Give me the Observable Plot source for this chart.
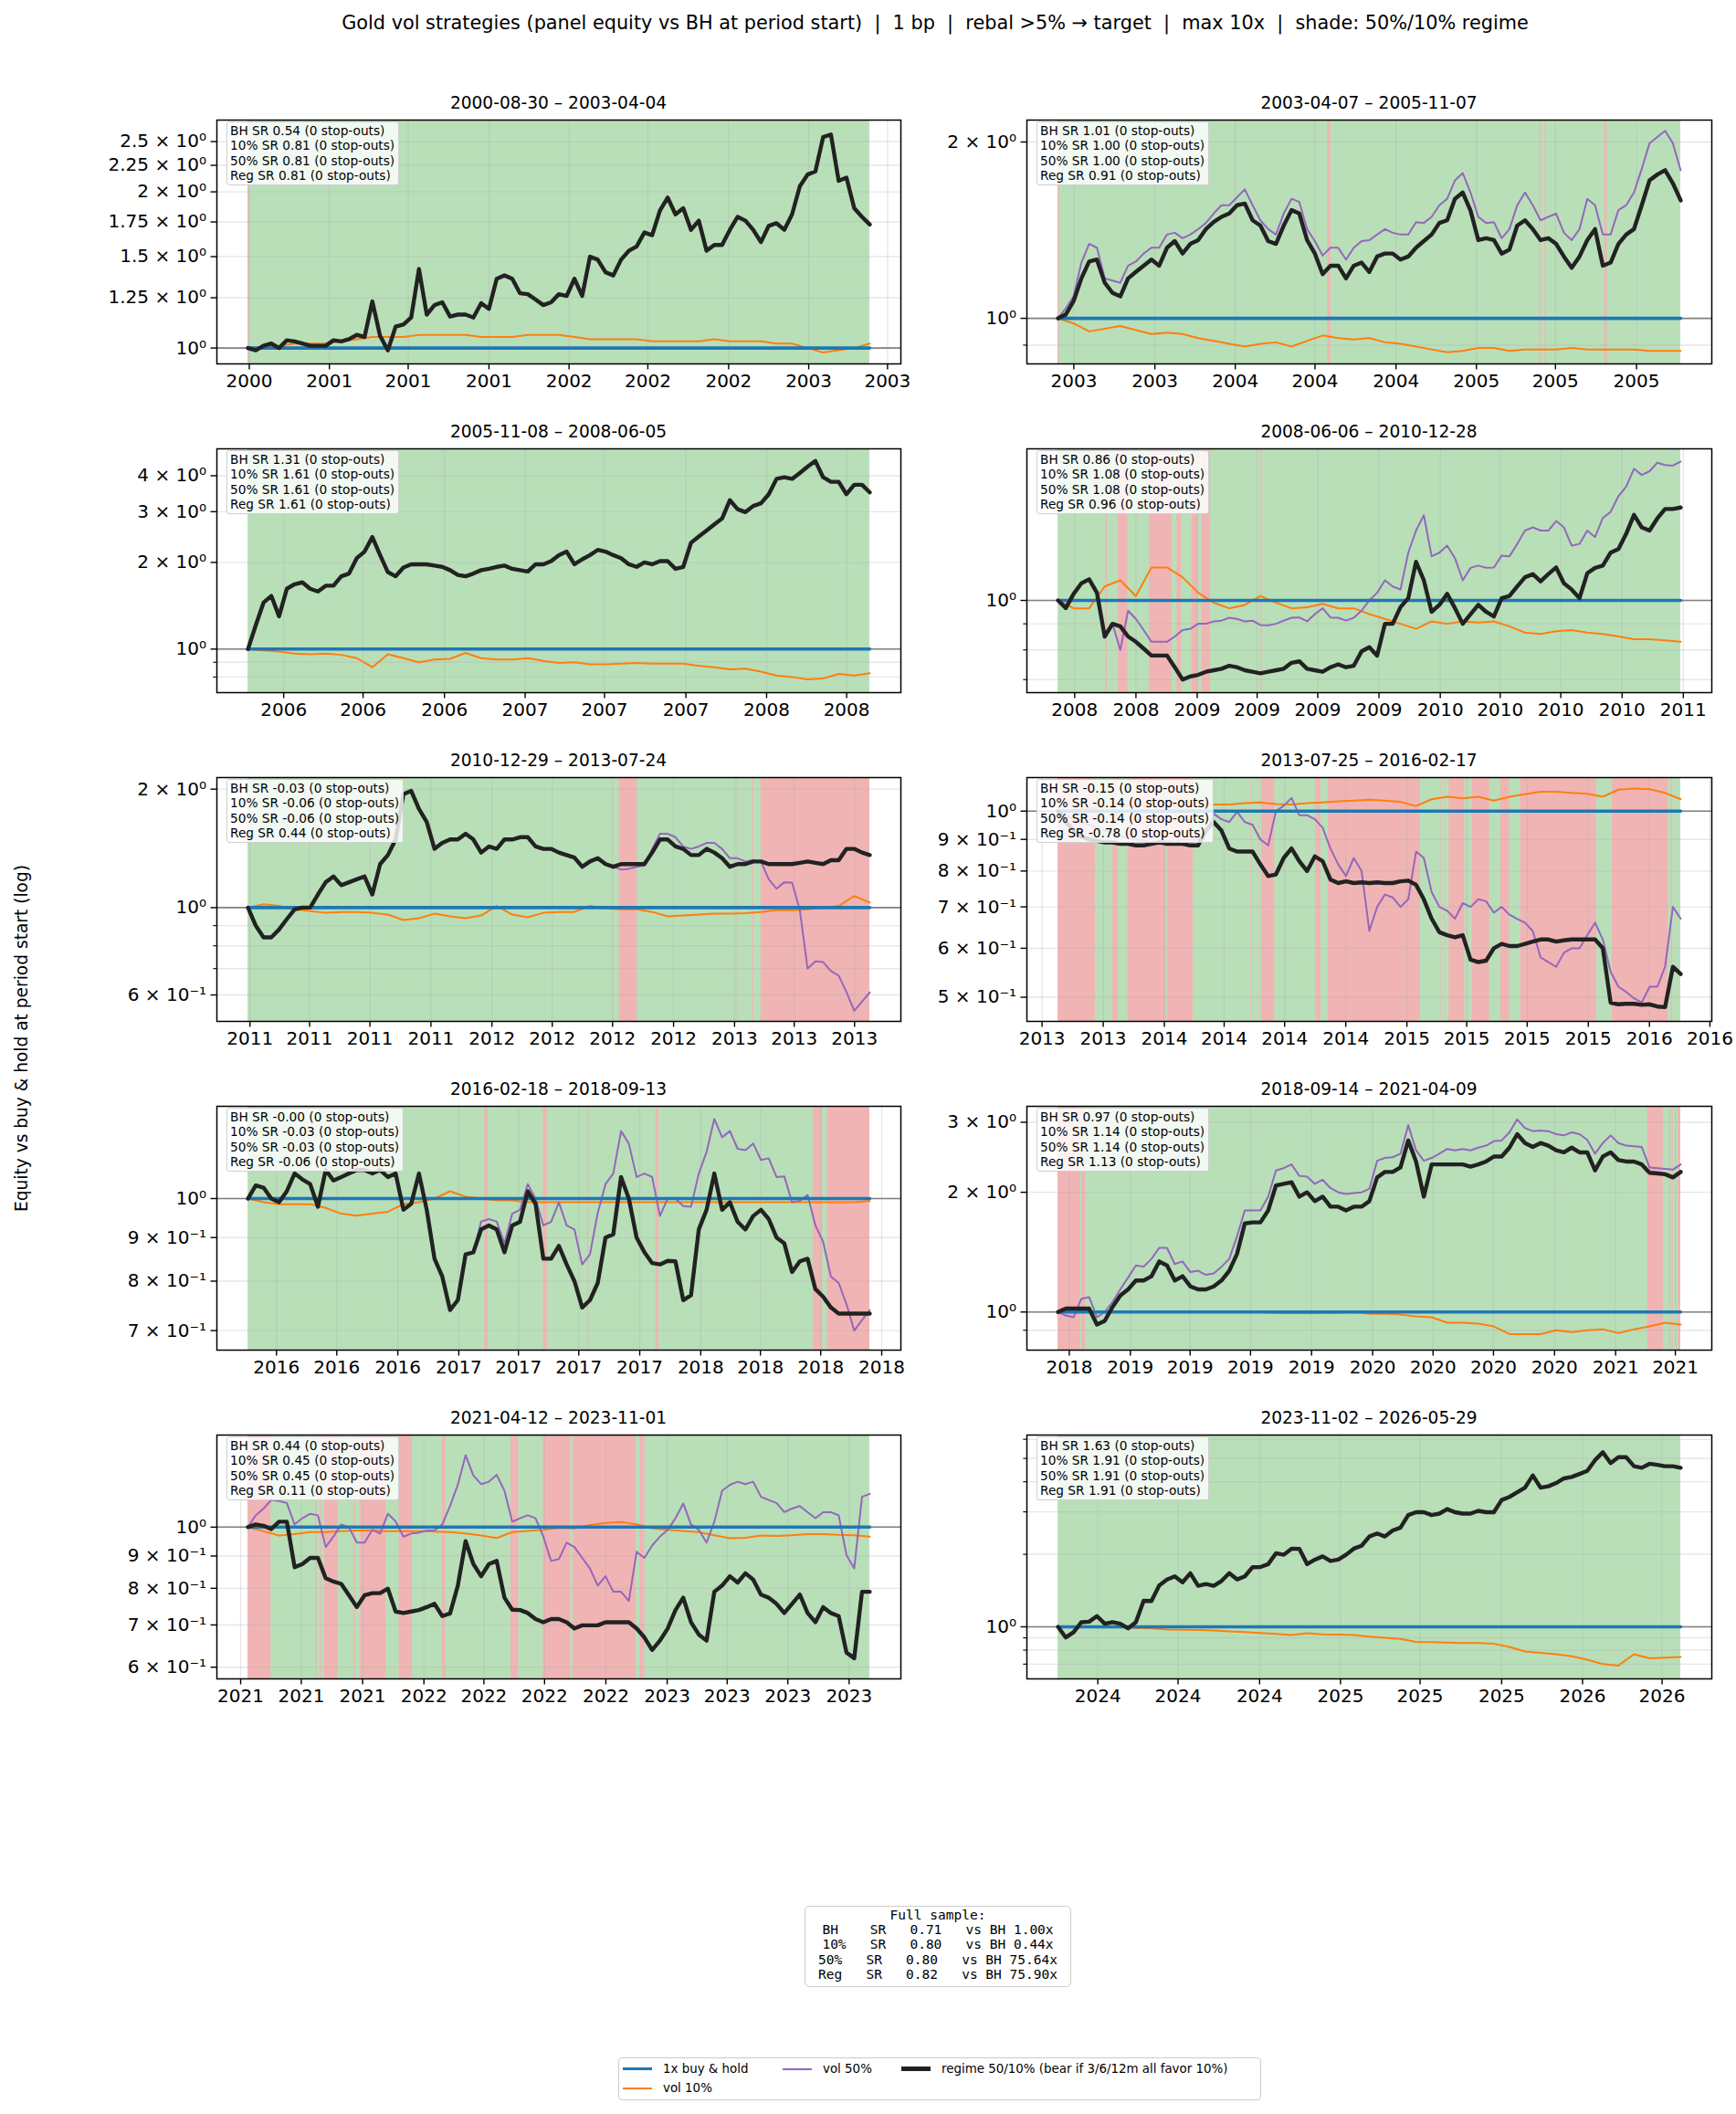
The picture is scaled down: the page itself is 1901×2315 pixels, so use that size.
<!DOCTYPE html>
<html><head><meta charset="utf-8">
<script src="https://cdn.jsdelivr.net/npm/d3@7"></script>
<script src="https://cdn.jsdelivr.net/npm/@observablehq/plot@0.6"></script>
<style>
body{margin:0;background:#fff;}
#fig{position:relative;width:1901px;height:2315px;background:#fff;font-family:"DejaVu Sans",sans-serif;color:#000;overflow:hidden}
.ptitle{position:absolute;font-size:18.6px;line-height:22px;white-space:nowrap;transform:translateX(-50%)}
.sbox{position:absolute;background:rgba(255,255,255,0.82);border:1px solid #cfcfcf;border-radius:3px;font-size:13.7px;line-height:16.3px;padding:1px 4px 2px 3px;white-space:nowrap}
.psvg{position:absolute}
</style></head><body><div id="fig"></div>
<script>
// ---------- data ----------
const periods = [["2000-08-30","2003-04-04"],["2003-04-07","2005-11-07"],["2005-11-08","2008-06-05"],["2008-06-06","2010-12-28"],["2010-12-29","2013-07-24"],["2013-07-25","2016-02-17"],["2016-02-18","2018-09-13"],["2018-09-14","2021-04-09"],["2021-04-12","2023-11-01"],["2023-11-02","2026-05-29"]];
const tickMonths = [
  ["2000-09","2001-01","2001-05","2001-09","2002-01","2002-05","2002-09","2003-01","2003-05"],
  ["2003-05","2003-09","2004-01","2004-05","2004-09","2005-01","2005-05","2005-09"],
  ["2006-01","2006-05","2006-09","2007-01","2007-05","2007-09","2008-01","2008-05"],
  ["2008-07","2008-10","2009-01","2009-04","2009-07","2009-10","2010-01","2010-04","2010-07","2010-10","2011-01"],
  ["2011-01","2011-04","2011-07","2011-10","2012-01","2012-04","2012-07","2012-10","2013-01","2013-04","2013-07"],
  ["2013-07","2013-10","2014-01","2014-04","2014-07","2014-10","2015-01","2015-04","2015-07","2015-10","2016-01","2016-04"],
  ["2016-04","2016-07","2016-10","2017-01","2017-04","2017-07","2017-10","2018-01","2018-04","2018-07","2018-10"],
  ["2018-10","2019-01","2019-04","2019-07","2019-10","2020-01","2020-04","2020-07","2020-10","2021-01","2021-04"],
  ["2021-04","2021-07","2021-10","2022-01","2022-04","2022-07","2022-10","2023-01","2023-04","2023-07","2023-10"],
  ["2024-01","2024-05","2024-09","2025-01","2025-05","2025-09","2026-01","2026-05"]];
const yRanges = [[0.932,2.75],[0.836,2.18],[0.706,4.96],[0.66,1.98],[0.514,2.14],[0.457,1.133],[0.664,1.283],[0.802,3.29],[0.575,1.399],[0.608,6.25]];
const yLabeled = [[1,1.25,1.5,1.75,2,2.25,2.5],[1,2],[1,2,3,4],[1],[0.6,1,2],[0.5,0.6,0.7,0.8,0.9,1],[0.7,0.8,0.9,1],[1,2,3],[0.6,0.7,0.8,0.9,1],[1]];
const yMinor = [[],[0.9],[0.8,0.9],[0.7,0.8,0.9],[0.7,0.8,0.9],[],[],[0.9],[],[0.7,0.8,0.9,2,3,4,5,6]];
const strategies = ["BH","10%","50%","Reg"];
const sharpe = [["0.54","0.81","0.81","0.81"],["1.01","1.00","1.00","0.91"],["1.31","1.61","1.61","1.61"],["0.86","1.08","1.08","0.96"],["-0.03","-0.06","-0.06","0.44"],["-0.15","-0.14","-0.14","-0.78"],["-0.00","-0.03","-0.03","-0.06"],["0.97","1.14","1.14","1.13"],["0.44","0.45","0.45","0.11"],["1.63","1.91","1.91","1.91"]];
const stopOuts = [0,0,0,0,0,0,0,0,0,0];
// bear-regime (red) spans as fraction of the period; rest of the period is bull (green)
const bearSpans = [
  [[0,0.002]],
  [[0,0.002],[0.433,0.438],[0.773,0.775],[0.782,0.784],[0.878,0.882]],
  [],
  [[0.077,0.079],[0.097,0.112],[0.147,0.183],[0.191,0.198],[0.215,0.225],[0.231,0.245],[0.326,0.328]],
  [[0.597,0.626],[0.787,0.789],[0.811,0.813],[0.825,1.0]],
  [[0,0.060],[0.088,0.096],[0.112,0.174],[0.176,0.217],[0.310,0.311],[0.323,0.324],[0.327,0.348],[0.414,0.422],[0.434,0.582],[0.614,0.615],[0.620,0.621],[0.628,0.653],[0.658,0.659],[0.665,0.693],[0.711,0.725],[0.743,0.865],[0.890,0.980],[0.985,0.987]],
  [[0.381,0.386],[0.475,0.481],[0.546,0.548],[0.656,0.660],[0.909,0.924],[0.932,1.0]],
  [[0,0.036],[0.038,0.044],[0.947,0.972],[0.982,0.984],[0.986,0.988],[0.996,1.0]],
  [[0,0.037],[0.109,0.111],[0.117,0.119],[0.123,0.145],[0.171,0.173],[0.181,0.222],[0.243,0.264],[0.313,0.318],[0.423,0.435],[0.475,0.519],[0.523,0.624],[0.630,0.638]],
  []];

// equity vs BH, evenly spaced through each period
const regime1 = [1.00,0.99,1.01,1.02,1.00,1.035,1.03,1.02,1.01,1.01,1.01,1.035,1.03,1.04,1.06,1.05,1.23,1.055,0.99,1.10,1.11,1.145,1.42,1.16,1.21,1.225,1.15,1.16,1.16,1.145,1.22,1.19,1.36,1.38,1.36,1.275,1.27,1.24,1.21,1.225,1.27,1.26,1.36,1.26,1.50,1.48,1.40,1.38,1.48,1.54,1.57,1.67,1.65,1.84,1.95,1.81,1.86,1.69,1.76,1.54,1.58,1.58,1.69,1.79,1.76,1.69,1.60,1.72,1.74,1.69,1.81,2.05,2.16,2.19,2.55,2.58,2.10,2.13,1.86,1.79,1.73];
const vol10_1 = [1.00,1.00,1.01,1.02,1.02,1.02,1.03,1.04,1.05,1.05,1.05,1.06,1.06,1.06,1.06,1.05,1.05,1.05,1.06,1.06,1.06,1.05,1.04,1.04,1.04,1.04,1.03,1.03,1.03,1.03,1.04,1.03,1.03,1.03,1.02,1.02,1.00,0.98,0.99,1.00,1.02];
const vol50_1 = regime1;

const regime2 = [1.00,1.015,1.07,1.17,1.25,1.26,1.15,1.105,1.09,1.17,1.20,1.23,1.26,1.23,1.32,1.355,1.29,1.34,1.36,1.42,1.46,1.49,1.51,1.56,1.57,1.47,1.44,1.355,1.34,1.44,1.53,1.51,1.36,1.29,1.19,1.23,1.23,1.17,1.23,1.245,1.20,1.275,1.29,1.29,1.26,1.275,1.32,1.355,1.39,1.455,1.47,1.60,1.64,1.527,1.36,1.37,1.36,1.29,1.31,1.44,1.47,1.42,1.36,1.37,1.34,1.275,1.22,1.275,1.36,1.42,1.23,1.245,1.34,1.39,1.42,1.56,1.72,1.76,1.79,1.70,1.59];
const vol50_2 = [1.00,1.04,1.09,1.245,1.34,1.32,1.17,1.16,1.15,1.23,1.25,1.29,1.32,1.32,1.39,1.40,1.37,1.39,1.42,1.455,1.51,1.56,1.56,1.61,1.66,1.56,1.47,1.42,1.39,1.51,1.60,1.58,1.42,1.355,1.28,1.32,1.32,1.26,1.32,1.355,1.36,1.39,1.42,1.40,1.39,1.39,1.46,1.455,1.49,1.56,1.60,1.72,1.77,1.64,1.49,1.455,1.46,1.37,1.42,1.56,1.64,1.56,1.47,1.49,1.51,1.40,1.36,1.42,1.60,1.56,1.39,1.39,1.53,1.56,1.64,1.80,1.99,2.04,2.09,1.99,1.79];
const vol10_2 = [1.00,0.98,0.95,0.96,0.97,0.955,0.94,0.945,0.94,0.925,0.915,0.905,0.895,0.905,0.91,0.895,0.915,0.935,0.925,0.92,0.925,0.91,0.905,0.895,0.885,0.875,0.88,0.89,0.89,0.88,0.885,0.885,0.885,0.89,0.885,0.885,0.885,0.885,0.88,0.88,0.88];

const regime3 = [1.00,1.21,1.45,1.53,1.30,1.62,1.68,1.705,1.62,1.585,1.66,1.66,1.79,1.83,2.07,2.18,2.45,2.12,1.85,1.79,1.92,1.97,1.97,1.97,1.95,1.93,1.88,1.81,1.79,1.83,1.88,1.90,1.93,1.95,1.90,1.88,1.86,1.97,1.97,2.02,2.12,2.18,1.97,2.05,2.12,2.21,2.18,2.12,2.07,1.97,1.93,2.00,1.97,2.02,2.02,1.90,1.93,2.34,2.46,2.58,2.71,2.84,3.29,3.06,2.99,3.14,3.21,3.45,3.90,3.95,3.90,4.09,4.30,4.50,3.95,3.81,3.81,3.45,3.72,3.72,3.50];
const vol10_3 = [1.00,0.99,0.98,0.965,0.96,0.965,0.955,0.93,0.865,0.96,0.93,0.90,0.92,0.925,0.97,0.93,0.92,0.92,0.93,0.91,0.895,0.90,0.885,0.885,0.89,0.895,0.89,0.89,0.89,0.875,0.865,0.85,0.855,0.835,0.81,0.80,0.785,0.79,0.82,0.81,0.825];
const vol50_3 = regime3;

const regime4 = [1.00,0.966,1.03,1.08,1.10,1.035,0.85,0.90,0.89,0.85,0.83,0.805,0.78,0.78,0.78,0.74,0.70,0.71,0.715,0.725,0.73,0.735,0.745,0.74,0.73,0.725,0.72,0.725,0.73,0.735,0.755,0.76,0.735,0.73,0.725,0.74,0.75,0.74,0.745,0.795,0.81,0.78,0.90,0.90,0.97,1.01,1.19,1.095,0.95,0.98,1.03,0.966,0.90,0.94,0.98,0.95,0.93,1.01,1.02,1.065,1.11,1.126,1.09,1.126,1.16,1.08,1.05,1.01,1.13,1.158,1.17,1.24,1.26,1.35,1.47,1.39,1.37,1.447,1.51,1.51,1.52];
const vol50_4 = [1.00,0.966,1.03,1.08,1.10,1.035,0.85,0.90,0.80,0.955,0.92,0.875,0.83,0.83,0.83,0.85,0.875,0.88,0.90,0.90,0.91,0.913,0.925,0.92,0.91,0.913,0.895,0.894,0.90,0.913,0.925,0.926,0.91,0.94,0.965,0.926,0.925,0.913,0.925,0.955,1.00,1.035,1.095,1.065,1.05,1.24,1.37,1.468,1.22,1.24,1.28,1.21,1.095,1.158,1.17,1.158,1.16,1.224,1.22,1.29,1.37,1.39,1.37,1.37,1.43,1.39,1.28,1.29,1.37,1.33,1.45,1.49,1.60,1.67,1.81,1.76,1.79,1.86,1.84,1.835,1.87];
const vol10_4 = [1.00,0.965,0.965,1.065,1.095,1.02,1.16,1.16,1.11,1.035,0.99,0.965,0.98,1.02,0.99,0.965,0.97,0.985,0.965,0.965,0.94,0.92,0.90,0.88,0.91,0.90,0.91,0.905,0.91,0.89,0.865,0.86,0.87,0.875,0.865,0.86,0.85,0.84,0.84,0.835,0.83];

const regime5 = [1.00,0.90,0.84,0.84,0.88,0.935,0.99,1.00,1.00,1.08,1.16,1.20,1.14,1.16,1.18,1.20,1.08,1.29,1.36,1.49,1.94,1.98,1.78,1.65,1.41,1.46,1.49,1.49,1.54,1.49,1.38,1.43,1.41,1.49,1.49,1.51,1.51,1.43,1.41,1.41,1.38,1.36,1.34,1.27,1.31,1.335,1.29,1.27,1.29,1.29,1.29,1.29,1.38,1.49,1.49,1.43,1.41,1.36,1.36,1.41,1.38,1.335,1.27,1.29,1.29,1.31,1.31,1.29,1.29,1.29,1.29,1.30,1.31,1.30,1.29,1.32,1.32,1.41,1.41,1.38,1.36];
const vol50_5 = [1.00,0.90,0.84,0.84,0.88,0.935,0.99,1.00,1.00,1.08,1.16,1.20,1.14,1.16,1.18,1.20,1.08,1.29,1.36,1.49,1.94,1.98,1.78,1.65,1.41,1.46,1.49,1.49,1.54,1.49,1.38,1.43,1.41,1.49,1.49,1.51,1.51,1.43,1.41,1.41,1.38,1.36,1.34,1.27,1.31,1.335,1.29,1.27,1.25,1.255,1.27,1.28,1.41,1.54,1.54,1.51,1.43,1.41,1.43,1.46,1.46,1.41,1.335,1.335,1.31,1.32,1.31,1.18,1.117,1.16,1.158,0.986,0.70,0.73,0.727,0.69,0.672,0.61,0.547,0.577,0.609];
const vol10_5 = [1.00,1.02,1.01,0.99,0.98,0.97,0.975,0.975,0.97,0.96,0.93,0.94,0.965,0.95,0.94,0.955,1.01,0.96,0.945,0.97,0.975,0.975,1.01,0.995,0.99,0.99,0.975,0.95,0.955,0.96,0.965,0.965,0.968,0.974,0.985,0.985,0.99,1.00,1.01,1.07,1.03];

const regime6 = [1.00,0.96,0.93,0.91,0.90,0.895,0.89,0.89,0.885,0.885,0.88,0.88,0.885,0.89,0.885,0.885,0.885,0.88,0.88,0.93,0.96,0.93,0.87,0.86,0.86,0.86,0.82,0.785,0.79,0.84,0.87,0.83,0.80,0.845,0.83,0.775,0.765,0.77,0.765,0.767,0.765,0.767,0.765,0.765,0.77,0.772,0.76,0.72,0.67,0.637,0.63,0.625,0.63,0.575,0.57,0.573,0.60,0.61,0.605,0.605,0.61,0.615,0.62,0.62,0.615,0.618,0.62,0.62,0.62,0.62,0.60,0.49,0.487,0.488,0.488,0.486,0.487,0.483,0.482,0.56,0.545];
const vol50_6 = [1.00,0.985,0.97,0.96,0.95,0.94,0.93,0.92,0.91,0.905,0.90,0.895,0.89,0.89,0.895,0.89,0.90,0.90,0.90,0.92,0.99,0.97,0.96,0.997,0.96,0.95,0.90,0.88,1.00,1.02,1.05,0.985,0.985,0.97,0.94,0.87,0.82,0.785,0.84,0.80,0.64,0.70,0.733,0.725,0.70,0.72,0.86,0.84,0.74,0.70,0.69,0.67,0.71,0.70,0.72,0.715,0.685,0.70,0.68,0.669,0.66,0.64,0.58,0.57,0.56,0.59,0.60,0.60,0.63,0.66,0.62,0.55,0.52,0.51,0.498,0.49,0.52,0.52,0.56,0.70,0.67];
const vol10_6 = [1.00,1.005,1.01,1.015,1.02,1.02,1.02,1.02,1.02,1.02,1.025,1.025,1.03,1.033,1.027,1.025,1.03,1.033,1.037,1.04,1.043,1.04,1.035,1.019,1.045,1.055,1.049,1.055,1.04,1.055,1.065,1.075,1.075,1.07,1.067,1.055,1.083,1.088,1.085,1.07,1.045];

const regime7 = [1.00,1.036,1.03,1.00,0.99,1.02,1.07,1.053,1.04,0.978,1.08,1.05,1.06,1.07,1.08,1.08,1.07,1.08,1.06,1.07,0.97,0.986,1.07,0.97,0.85,0.81,0.74,0.76,0.86,0.865,0.92,0.93,0.92,0.865,0.93,0.939,1.02,0.986,0.85,0.85,0.88,0.837,0.80,0.745,0.76,0.796,0.90,0.908,1.06,1.00,0.90,0.865,0.84,0.837,0.845,0.844,0.76,0.77,0.92,0.97,1.07,0.97,0.99,0.939,0.92,0.954,0.97,0.946,0.90,0.886,0.82,0.844,0.85,0.783,0.767,0.745,0.733,0.733,0.733,0.733,0.733];
const vol50_7 = [1.00,1.036,1.03,1.00,0.99,1.02,1.07,1.053,1.04,0.978,1.08,1.05,1.06,1.07,1.08,1.08,1.07,1.08,1.06,1.07,0.97,0.986,1.07,0.97,0.85,0.81,0.74,0.76,0.86,0.865,0.94,0.946,0.94,0.886,0.96,0.97,1.04,1.0,0.93,0.939,0.99,0.93,0.92,0.837,0.86,0.962,1.04,1.07,1.20,1.16,1.06,1.07,1.06,0.954,1.00,1.0,0.98,0.978,1.07,1.134,1.24,1.18,1.20,1.144,1.14,1.16,1.11,1.115,1.06,1.062,0.99,0.994,1.01,0.93,0.89,0.81,0.796,0.752,0.70,0.72,0.74];
const vol10_7 = [1.00,0.99,0.985,0.985,0.985,0.975,0.96,0.955,0.96,0.965,0.985,0.99,1.00,1.02,1.005,1.00,0.995,0.995,0.99,0.99,0.99,0.99,0.99,0.99,0.99,0.99,0.99,0.99,0.99,0.99,0.99,0.99,0.99,0.99,0.99,0.99,0.99,0.99,0.99,0.99,0.993];

const regime8 = [1.00,1.02,1.02,1.02,1.02,0.93,0.95,1.03,1.10,1.14,1.20,1.20,1.23,1.34,1.31,1.20,1.23,1.16,1.14,1.14,1.16,1.20,1.27,1.40,1.67,1.68,1.68,1.80,2.08,2.10,2.12,1.95,2.00,1.90,1.95,1.84,1.84,1.80,1.84,1.84,1.90,2.18,2.25,2.25,2.31,2.70,2.39,1.95,2.35,2.35,2.35,2.35,2.35,2.32,2.35,2.39,2.46,2.46,2.59,2.80,2.66,2.60,2.66,2.62,2.55,2.52,2.59,2.52,2.52,2.27,2.46,2.52,2.41,2.39,2.39,2.35,2.24,2.23,2.22,2.18,2.25];
const vol50_8 = [1.00,0.98,0.97,1.08,1.09,0.97,1.00,1.06,1.14,1.22,1.31,1.30,1.36,1.45,1.45,1.32,1.34,1.26,1.27,1.24,1.25,1.30,1.36,1.55,1.80,1.80,1.80,1.95,2.27,2.30,2.35,2.20,2.19,2.10,2.15,2.05,2.00,1.98,1.99,2.00,2.04,2.40,2.44,2.45,2.50,2.95,2.55,2.40,2.44,2.50,2.57,2.55,2.57,2.55,2.59,2.62,2.69,2.70,2.83,3.05,2.90,2.85,2.86,2.85,2.80,2.78,2.83,2.80,2.71,2.50,2.66,2.78,2.66,2.62,2.61,2.60,2.31,2.30,2.29,2.28,2.35];
const vol10_8 = [1.00,1.00,1.00,1.00,1.00,1.00,1.00,1.00,1.00,1.00,1.00,1.00,1.00,1.00,0.995,0.993,0.993,0.995,0.995,1.00,0.99,0.99,0.985,0.975,0.97,0.94,0.94,0.935,0.92,0.88,0.88,0.88,0.90,0.89,0.90,0.905,0.885,0.905,0.92,0.94,0.93];

const regime9 = [1.00,1.01,1.005,0.993,1.02,1.02,0.864,0.874,0.894,0.894,0.83,0.82,0.813,0.78,0.747,0.78,0.786,0.786,0.799,0.735,0.731,0.735,0.739,0.747,0.756,0.723,0.73,0.808,0.95,0.874,0.836,0.874,0.884,0.773,0.74,0.739,0.731,0.715,0.707,0.715,0.715,0.707,0.691,0.699,0.699,0.699,0.707,0.707,0.707,0.707,0.691,0.669,0.639,0.661,0.691,0.739,0.773,0.707,0.676,0.661,0.790,0.808,0.836,0.817,0.845,0.826,0.782,0.773,0.756,0.731,0.756,0.782,0.731,0.707,0.747,0.731,0.723,0.633,0.62,0.79,0.79];
const vol50_9 = [1.00,1.044,1.07,1.104,1.10,1.092,1.01,1.033,1.05,1.044,0.93,0.966,1.01,0.999,0.945,0.945,0.99,0.977,1.05,1.021,0.966,0.977,0.98,0.988,0.988,1.01,1.08,1.167,1.30,1.207,1.17,1.18,1.21,1.142,1.02,1.033,1.044,1.033,0.966,0.884,0.89,0.945,0.93,0.894,0.86,0.808,0.836,0.790,0.79,0.764,0.914,0.894,0.935,0.966,0.99,1.033,1.09,1.01,0.99,0.945,1.02,1.142,1.167,1.18,1.17,1.18,1.117,1.104,1.092,1.056,1.07,1.080,1.056,1.033,1.056,1.056,1.044,0.903,0.86,1.117,1.129];
const vol10_9 = [1.00,0.985,0.97,0.975,0.982,0.982,0.985,0.988,0.988,0.985,0.985,0.986,0.984,0.982,0.977,0.97,0.961,0.982,0.986,0.99,0.997,0.995,1.008,1.015,1.019,1.01,0.995,0.99,0.986,0.982,0.971,0.96,0.962,0.97,0.968,0.971,0.975,0.975,0.972,0.971,0.966];

const regime10 = [1.00,0.903,0.95,1.045,1.05,1.108,1.03,1.045,1.03,0.985,1.045,1.282,1.28,1.483,1.57,1.619,1.53,1.668,1.48,1.505,1.48,1.55,1.67,1.573,1.62,1.768,1.77,1.82,2.02,1.99,2.11,2.107,1.82,1.90,1.96,1.875,1.90,1.99,2.11,2.17,2.37,2.44,2.37,2.51,2.58,2.91,2.99,2.99,2.91,2.95,3.08,2.99,2.95,2.95,3.03,2.99,2.99,3.36,3.46,3.62,3.78,4.25,3.78,3.83,3.95,4.13,4.19,4.31,4.44,4.92,5.30,4.78,5.06,5.06,4.64,4.57,4.75,4.70,4.64,4.64,4.57];
const vol10_10 = [1.0,1.0,1.0,1.0,0.995,0.99,0.985,0.975,0.972,0.97,0.965,0.957,0.95,0.943,0.935,0.924,0.94,0.93,0.928,0.924,0.91,0.90,0.89,0.865,0.864,0.86,0.856,0.856,0.85,0.825,0.79,0.78,0.77,0.755,0.73,0.70,0.69,0.77,0.74,0.745,0.75];
const vol50_10 = regime10;

const buyHold = [1, 1];

const regimeAll = [regime1,regime2,regime3,regime4,regime5,regime6,regime7,regime8,regime9,regime10];
const vol10All = [vol10_1,vol10_2,vol10_3,vol10_4,vol10_5,vol10_6,vol10_7,vol10_8,vol10_9,vol10_10];
const vol50All = [vol50_1,vol50_2,vol50_3,vol50_4,vol50_5,vol50_6,vol50_7,vol50_8,vol50_9,vol50_10];

const legendItems = [["1x buy & hold","#1f77b4",3.5],["vol 10%","#ff7f0e",2],["vol 50%","#9467bd",2],["regime 50/10% (bear if 3/6/12m all favor 10%)","#222222",4.5]];
const fullSample = [["BH","0.71","1.00"],["10%","0.80","0.44"],["50%","0.80","75.64"],["Reg","0.82","75.90"]];

// ---------- drawing ----------
const fig = document.getElementById("fig");
const C = {bh:"#1f77b4", v10:"#ff7f0e", v50:"#9467bd", reg:"#222222", bull:"#b9dfb9", bear:"#f1b4b4", grid:"#b0b0b0"};
const supd = {"0":"⁰","1":"¹","2":"²","3":"³","-":"⁻"};
function fmtLog(v){
  const e = Math.floor(Math.log10(v) + 1e-9);
  const m = Math.round(v / Math.pow(10, e) * 100) / 100;
  const es = String(e).split("").map(c => supd[c]).join("");
  return (Math.abs(m - 1) < 1e-9 ? "" : `${m} × `) + "10" + es;
}
function addDiv(parent, cls, html, css){
  const d = document.createElement("div");
  if (cls) d.className = cls;
  d.innerHTML = html;
  Object.assign(d.style, css);
  parent.appendChild(d);
  return d;
}

const colL = [237, 1124], colW = [749, 750], PH = 267;
const ML = 160, MR = 6, MT = 6, MB = 52;

for (let i = 0; i < 10; i++) {
  const col = i % 2, row = Math.floor(i / 2);
  const L = colL[col], T = 131 + 360 * row, W = colW[col];
  const s = new Date(periods[i][0] + "T00:00:00Z"), e = new Date(periods[i][1] + "T00:00:00Z");
  const span = e - s;
  const toDate = t => new Date(+s + t * span);
  const series = arr => arr.map((v, j) => ({date: toDate(j / (arr.length - 1)), v}));
  const ticks = tickMonths[i].map(m => new Date(m + "-01T00:00:00Z"));
  const [y0, y1] = yRanges[i];
  const allY = [...yLabeled[i], ...yMinor[i]];
  const xDom = [new Date(+s - 0.05 * span), new Date(+e + 0.05 * span)];

  const svg = Plot.plot({
    width: W + ML + MR, height: PH + MT + MB,
    marginLeft: ML, marginRight: MR, marginTop: MT, marginBottom: MB,
    x: {type: "utc", domain: xDom, label: null},
    y: {type: "log", domain: [y0, y1], label: null},
    style: {fontFamily: "DejaVu Sans", fontSize: "20px", background: "transparent", overflow: "visible", color: "#000"},
    marks: [
      Plot.rect([[0, 1]], {x1: d => toDate(d[0]), x2: d => toDate(d[1]), y1: y0, y2: y1, fill: C.bull}),
      Plot.rect(bearSpans[i], {x1: d => toDate(d[0]), x2: d => toDate(d[1]), y1: y0, y2: y1, fill: C.bear}),
      Plot.gridX({ticks, stroke: C.grid, strokeOpacity: 0.3, strokeWidth: 1.4}),
      Plot.ruleY(allY, {stroke: C.grid, strokeOpacity: 0.3, strokeWidth: 1.4}),
      Plot.ruleY([1], {stroke: "#808080", strokeWidth: 1.6}),
      Plot.line(series(vol10All[i]), {x: "date", y: "v", stroke: C.v10, strokeWidth: 2, clip: true}),
      Plot.line(series(vol50All[i]), {x: "date", y: "v", stroke: C.v50, strokeWidth: 2, clip: true}),
      Plot.line(series(buyHold), {x: "date", y: "v", stroke: C.bh, strokeWidth: 3.6, clip: true}),
      Plot.line(series(regimeAll[i]), {x: "date", y: "v", stroke: C.reg, strokeWidth: 4.4, clip: true}),
      Plot.frame({stroke: "#000", strokeWidth: 1.5}),
      Plot.axisX({ticks, tickFormat: d3.utcFormat("%Y"), tickSize: 6.5, tickPadding: 5, label: null, strokeWidth: 1.4}),
      Plot.axisY({ticks: yLabeled[i], tickFormat: () => "", tickSize: 6.5, label: null, strokeWidth: 1.4}),
      Plot.axisY({ticks: yMinor[i], tickFormat: () => "", tickSize: 3.7, label: null, strokeWidth: 1.1}),
      Plot.text(yLabeled[i], {x: () => xDom[0], y: d => d, text: d => fmtLog(d), textAnchor: "end", dx: -11.5, fontSize: 20, fill: "#000"})
    ]
  });
  svg.classList.add("psvg");
  svg.style.left = (L - ML) + "px";
  svg.style.top = (T - MT) + "px";
  fig.appendChild(svg);

  addDiv(fig, "ptitle", `${periods[i][0]} – ${periods[i][1]}`, {left: (L + W / 2) + "px", top: (T - 29) + "px"});
  const lines = strategies.map((k, j) => `${k} SR ${sharpe[i][j]} (${stopOuts[i]} stop-outs)`).join("<br>");
  addDiv(fig, "sbox", lines, {left: (L + 11) + "px", top: (T + 2) + "px"});
}

// suptitle
addDiv(fig, null, "Gold vol strategies (panel equity vs BH at period start)&nbsp; |&nbsp; 1 bp&nbsp; |&nbsp; rebal &gt;5% → target&nbsp; |&nbsp; max 10x&nbsp; |&nbsp; shade: 50%/10% regime",
  {position: "absolute", left: "1024px", top: "12px", transform: "translateX(-50%)", fontSize: "20.8px", whiteSpace: "nowrap", lineHeight: "26px"});
// y label
const yl = addDiv(fig, null, "", {position: "absolute", left: "24px", top: "1137px", width: "0px", height: "0px"});
addDiv(yl, null, "Equity vs buy &amp; hold at period start (log)",
  {position: "absolute", left: "0px", top: "0px", transform: "translate(-50%,-50%) rotate(-90deg)", fontSize: "18.6px", whiteSpace: "nowrap", lineHeight: "22px"});

// full sample box
const fsLines = ["Full sample:"].concat(fullSample.map(r => `${r[0].padEnd(6)}SR   ${r[1]}   vs BH ${r[2]}x`));
addDiv(fig, null, fsLines.map(l => l.replace(/ /g, "&nbsp;")).join("<br>"),
  {position: "absolute", left: "881px", top: "2087px", width: "292px", height: "89px", boxSizing: "border-box",
   border: "1.5px solid #cccccc", borderRadius: "5px", fontFamily: "DejaVu Sans Mono", fontSize: "14.5px",
   lineHeight: "16.2px", textAlign: "center", paddingTop: "1px", background: "#fff"});

// legend
const lg = addDiv(fig, null, "", {position: "absolute", left: "677px", top: "2253px", width: "704px", height: "47px", boxSizing: "border-box",
  border: "1.5px solid #cccccc", borderRadius: "4px", background: "#fff", fontSize: "13.4px"});
const lgPos = [[4, 13], [4, 34], [179, 13], [309, 13]];
legendItems.forEach((it, k) => {
  const [x, y] = lgPos[k];
  addDiv(lg, null, "", {position: "absolute", left: x + "px", top: (y - it[2] / 2 - 1.5) + "px", width: "32px", height: it[2] + "px", background: it[1]});
  const t = addDiv(lg, null, "", {position: "absolute", left: (x + 44) + "px", top: (y - 10) + "px", whiteSpace: "nowrap", lineHeight: "17px"});
  t.textContent = it[0];
});
</script></body></html>
